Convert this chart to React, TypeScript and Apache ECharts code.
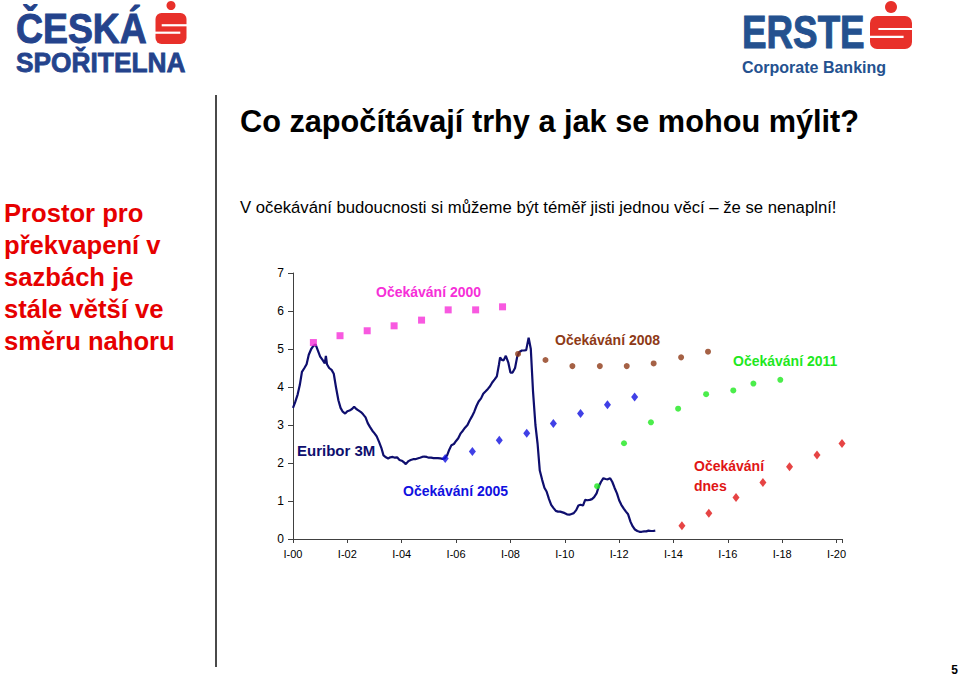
import React, { useEffect, useRef } from "react";
import * as echarts from "echarts";

// ---- Data (decimal year, value in %) ----
const euriborYears = [
  2000.0, 2000.08, 2000.17, 2000.25, 2000.33, 2000.42, 2000.5, 2000.58, 2000.67, 2000.75, 2000.83, 2000.92,
  2001.0, 2001.08, 2001.17, 2001.21, 2001.25, 2001.33, 2001.42, 2001.5, 2001.58, 2001.67, 2001.75, 2001.83, 2001.92,
  2002.0, 2002.08, 2002.17, 2002.25, 2002.33, 2002.42, 2002.5, 2002.58, 2002.67, 2002.75, 2002.83, 2002.92,
  2003.0, 2003.08, 2003.17, 2003.25, 2003.33, 2003.42, 2003.5, 2003.58, 2003.67, 2003.75, 2003.83, 2003.92,
  2004.0, 2004.08, 2004.15, 2004.25, 2004.33, 2004.42, 2004.5, 2004.58, 2004.67, 2004.75, 2004.83, 2004.92,
  2005.0, 2005.08, 2005.17, 2005.25, 2005.33, 2005.42, 2005.5, 2005.58, 2005.67, 2005.75, 2005.83, 2005.92,
  2006.0, 2006.08, 2006.17, 2006.25, 2006.33, 2006.42, 2006.5, 2006.58, 2006.67, 2006.75, 2006.83, 2006.92,
  2007.0, 2007.08, 2007.17, 2007.25, 2007.33, 2007.42, 2007.5, 2007.58, 2007.62, 2007.67, 2007.75, 2007.83, 2007.92,
  2008.0, 2008.08, 2008.17, 2008.25, 2008.33, 2008.42, 2008.5, 2008.58, 2008.67, 2008.75, 2008.83, 2008.92,
  2009.0, 2009.08, 2009.17, 2009.25, 2009.33, 2009.42, 2009.5, 2009.58, 2009.67, 2009.75, 2009.83, 2009.92,
  2010.0, 2010.08, 2010.17, 2010.25, 2010.33, 2010.42, 2010.5, 2010.58, 2010.67, 2010.75, 2010.83, 2010.92,
  2011.0, 2011.08, 2011.17, 2011.25, 2011.33, 2011.42, 2011.5, 2011.58, 2011.67, 2011.75, 2011.83, 2011.92,
  2012.0, 2012.08, 2012.17, 2012.25, 2012.33, 2012.42, 2012.5, 2012.58, 2012.67, 2012.75, 2012.83, 2012.92,
  2013.0, 2013.08, 2013.17, 2013.25, 2013.33,
];
const euriborValues = [
  3.45, 3.6, 3.8, 4.05, 4.4, 4.5, 4.6, 4.85, 5.0, 5.08, 5.12, 4.95,
  4.8, 4.72, 4.62, 4.82, 4.6, 4.5, 4.45, 4.35, 4.0, 3.65, 3.45, 3.35, 3.3,
  3.36, 3.38, 3.42, 3.48, 3.42, 3.38, 3.34, 3.28, 3.2, 3.05, 2.95, 2.85,
  2.78, 2.7, 2.55, 2.4, 2.2, 2.15, 2.12, 2.15, 2.16, 2.14, 2.15, 2.08,
  2.06, 2.02, 1.97, 2.05, 2.08, 2.1, 2.1, 2.12, 2.14, 2.16, 2.17, 2.16,
  2.14, 2.14, 2.13, 2.13, 2.13, 2.12, 2.11, 2.12, 2.2, 2.35, 2.47, 2.5,
  2.58, 2.65, 2.78, 2.85, 2.93, 3.0, 3.12, 3.22, 3.35, 3.5, 3.62, 3.7,
  3.82, 3.88, 3.95, 4.02, 4.12, 4.2, 4.28, 4.6, 4.78, 4.72, 4.7, 4.82, 4.65,
  4.38, 4.38, 4.5, 4.8, 4.92, 4.96, 4.96, 4.97, 5.3, 5.0, 3.9, 3.0,
  2.5, 1.8, 1.55, 1.35, 1.25, 1.05, 0.9, 0.82, 0.74, 0.72, 0.72, 0.7,
  0.68, 0.65, 0.64, 0.66, 0.68, 0.76, 0.88, 0.9, 0.88, 1.03, 1.02, 1.03,
  1.05, 1.1, 1.2, 1.38, 1.5, 1.6, 1.58, 1.57, 1.6, 1.5, 1.35, 1.2,
  1.02, 0.9, 0.8, 0.72, 0.65, 0.45, 0.33, 0.25, 0.21, 0.19, 0.19, 0.2,
  0.2, 0.22, 0.21, 0.21, 0.22,
];

const exp2000Years = [2000.75, 2001.73, 2002.73, 2003.72, 2004.73, 2005.71, 2006.72, 2007.71];
const exp2000Values = [5.17, 5.35, 5.48, 5.61, 5.76, 6.03, 6.03, 6.11];

const exp2005Years = [2005.6, 2006.6, 2007.59, 2008.6, 2009.58, 2010.58, 2011.57, 2012.57];
const exp2005Values = [2.12, 2.3, 2.6, 2.78, 3.04, 3.3, 3.53, 3.74];

const exp2008Years = [2008.28, 2009.29, 2010.28, 2011.29, 2012.28, 2013.27, 2014.28, 2015.27];
const exp2008Values = [4.87, 4.71, 4.55, 4.55, 4.55, 4.62, 4.78, 4.93];

const exp2011Years = [2011.19, 2012.18, 2013.17, 2014.17, 2015.2, 2016.2, 2016.94, 2017.93];
const exp2011Values = [1.39, 2.52, 3.07, 3.43, 3.81, 3.91, 4.09, 4.19];

const expTodayYears = [2014.31, 2015.3, 2016.3, 2017.29, 2018.27, 2019.28, 2020.2];
const expTodayValues = [0.35, 0.68, 1.09, 1.49, 1.9, 2.21, 2.51];

const xTickYears = [2000, 2002, 2004, 2006, 2008, 2010, 2012, 2014, 2016, 2018, 2020];
const yTicks = [0, 1, 2, 3, 4, 5, 6, 7];

const titleText = "Co započítávají trhy a jak se mohou mýlit?";
const subtitleText = "V očekávání budoucnosti si můžeme být téměř jisti jednou věcí – že se nenaplní!";
const sideText = "Prostor pro\npřekvapení v\nsazbách je\nstále větší ve\nsměru nahoru";

const FONT = "'Liberation Sans', Arial, Helvetica, sans-serif";

const zip = (xs: number[], ys: number[]) => xs.map((x, i) => [x, ys[i]]);

function sLogo(cx: number, top: number, w: number, h: number, r: number, dotR: number) {
  const left = cx - w / 2;
  const bodyTop = top + dotR * 2 + 3;
  const bodyH = h - (bodyTop - top);
  return [
    { type: "circle", shape: { cx, cy: top + dotR, r: dotR }, style: { fill: "#E8302A" } },
    { type: "rect", shape: { x: left, y: bodyTop, width: w, height: bodyH, r }, style: { fill: "#E8302A" } },
    { type: "rect", shape: { x: left + w * 0.2, y: bodyTop + bodyH * 0.36, width: w * 0.8 + 1, height: 2.2 }, style: { fill: "#fff" } },
    { type: "rect", shape: { x: left - 1, y: bodyTop + bodyH * 0.6, width: w * 0.8 + 1, height: 2.2 }, style: { fill: "#fff" } },
  ];
}

export default function App() {
  const ref = useRef<HTMLDivElement>(null);

  useEffect(() => {
    if (!ref.current) return;
    const chart = echarts.init(ref.current, undefined, { renderer: "svg" });

    const labelText = (text: string, x: number, y: number, fill: string, size = 14, lh?: number) => ({
      type: "text",
      x,
      y,
      style: {
        text,
        fill,
        font: `bold ${size}px ${FONT}`,
        textAlign: "left",
        textVerticalAlign: "middle",
        lineHeight: lh,
      },
    });

    chart.setOption({
      animation: false,
      backgroundColor: "#ffffff",
      grid: { left: 293, top: 273, width: 549, height: 266, containLabel: false },
      xAxis: {
        type: "value",
        min: 2000,
        max: 2020.2,
        interval: 2,
        splitLine: { show: false },
        axisLine: { lineStyle: { color: "#404040", width: 1 } },
        axisTick: { show: true, length: 4, lineStyle: { color: "#404040" } },
        axisLabel: {
          color: "#000",
          fontFamily: FONT,
          fontSize: 11,
          margin: 9,
          showMaxLabel: true,
          formatter: (v: number) => {
            const r = Math.round(v);
            if (Math.abs(v - r) > 1e-6 || !xTickYears.includes(r)) return "";
            return "I-" + String(r - 2000).padStart(2, "0");
          },
        },
      },
      yAxis: {
        type: "value",
        min: yTicks[0],
        max: yTicks[yTicks.length - 1],
        interval: 1,
        splitLine: { show: false },
        axisLine: { show: true, lineStyle: { color: "#404040", width: 1 } },
        axisTick: { show: true, length: 5, lineStyle: { color: "#404040" } },
        axisLabel: { color: "#000", fontFamily: FONT, fontSize: 12, margin: 9 },
      },
      series: [
        {
          name: "Euribor 3M",
          type: "line",
          data: zip(euriborYears, euriborValues),
          showSymbol: false,
          symbol: "none",
          lineStyle: { color: "#0E0E6E", width: 2.2 },
          z: 2,
        },
        {
          name: "Očekávání 2000",
          type: "scatter",
          data: zip(exp2000Years, exp2000Values),
          symbol: "rect",
          symbolSize: 7,
          itemStyle: { color: "#F62FD8" },
          z: 3,
        },
        {
          name: "Očekávání 2005",
          type: "scatter",
          data: zip(exp2005Years, exp2005Values),
          symbol: "diamond",
          symbolSize: [7, 9],
          itemStyle: { color: "#1010E0" },
          z: 3,
        },
        {
          name: "Očekávání 2008",
          type: "scatter",
          data: zip(exp2008Years, exp2008Values),
          symbol: "circle",
          symbolSize: 6,
          itemStyle: { color: "#8E3A17" },
          z: 3,
        },
        {
          name: "Očekávání 2011",
          type: "scatter",
          data: zip(exp2011Years, exp2011Values),
          symbol: "circle",
          symbolSize: 6,
          itemStyle: { color: "#1EE81E" },
          z: 3,
        },
        {
          name: "Očekávání dnes",
          type: "scatter",
          data: zip(expTodayYears, expTodayValues),
          symbol: "diamond",
          symbolSize: [7, 9],
          itemStyle: { color: "#E01515" },
          z: 3,
        },
      ],
      graphic: [
        // Česká spořitelna logo
        {
          type: "text",
          x: 16,
          y: 28,
          scaleX: 0.89,
          style: { text: "ČESKÁ", fill: "#24438C", font: `900 42px ${FONT}`, textAlign: "left", textVerticalAlign: "middle", stroke: "#24438C", lineWidth: 1 },
        },
        {
          type: "text",
          x: 16,
          y: 62,
          scaleX: 0.94,
          style: { text: "SPOŘITELNA", fill: "#24438C", font: `900 28px ${FONT}`, textAlign: "left", textVerticalAlign: "middle", stroke: "#24438C", lineWidth: 0.8 },
        },
        ...sLogo(171, 1, 31, 43, 6, 4.5),
        // Erste logo
        {
          type: "text",
          x: 742,
          y: 32,
          scaleX: 0.8,
          style: { text: "ERSTE", fill: "#24518F", font: `bold 46px ${FONT}`, textAlign: "left", textVerticalAlign: "middle", stroke: "#24518F", lineWidth: 1 },
        },
        {
          type: "text",
          x: 742,
          y: 67,
          style: { text: "Corporate Banking", fill: "#24518F", font: `bold 16px ${FONT}`, textAlign: "left", textVerticalAlign: "middle" },
        },
        ...sLogo(891, 1, 42, 48, 7, 6),
        // Divider
        { type: "line", shape: { x1: 216, y1: 95, x2: 216, y2: 667 }, style: { stroke: "#4a4a4a", lineWidth: 2 } },
        // Title & subtitle
        {
          type: "text",
          x: 240,
          y: 121,
          style: { text: titleText, fill: "#000", font: `bold 30.7px ${FONT}`, textAlign: "left", textVerticalAlign: "middle" },
        },
        {
          type: "text",
          x: 240,
          y: 207,
          style: { text: subtitleText, fill: "#000", font: `16.7px ${FONT}`, textAlign: "left", textVerticalAlign: "middle" },
        },
        // Side text
        {
          type: "text",
          x: 4,
          y: 197,
          style: { text: sideText, fill: "#E60000", font: `bold 25.6px ${FONT}`, lineHeight: 32, textAlign: "left", textVerticalAlign: "top" },
        },
        // Series annotations
        labelText("Očekávání 2000", 376, 292, "#F62FD8"),
        labelText("Očekávání 2008", 555, 340, "#8E3A17"),
        labelText("Očekávání 2011", 733, 361, "#1EE81E"),
        labelText("Euribor 3M", 297, 450, "#0E0E6E", 15),
        labelText("Očekávání 2005", 403, 491, "#1010E0"),
        labelText("Očekávání\ndnes", 694, 476, "#E01515", 14, 20),
        // Page number
        {
          type: "text",
          x: 958,
          y: 670,
          style: { text: "5", fill: "#000", font: `bold 12px ${FONT}`, textAlign: "right", textVerticalAlign: "middle" },
        },
      ],
    });

    return () => chart.dispose();
  }, []);

  return (
    <div
      ref={ref}
      style={{ position: "fixed", left: 0, top: 0, width: 960, height: 676, background: "#fff" }}
    />
  );
}
